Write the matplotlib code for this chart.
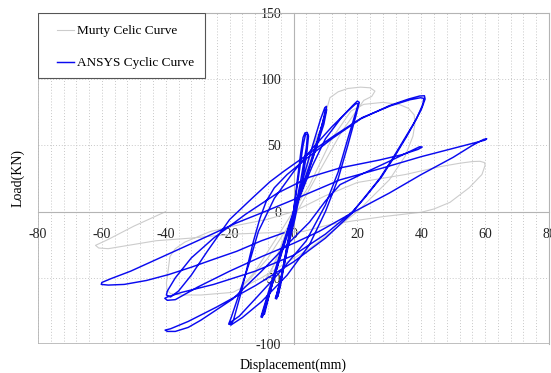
import matplotlib
matplotlib.use('Agg')
import matplotlib.pyplot as plt
from matplotlib.patches import Rectangle
import numpy as np

# ANSYS cyclic curve (displacement mm, load kN)
ansys_disp = [0, 1, 2.3, 3, 3.6, 4.3, 4.7, 4.2, 2.5, 0.5, -2, -4, -5.2, -5.7, -5.3, -4.8, -3.8, -2, 0,
              1.5, 3, 3.8, 4.4, 4, 2, -1, -3.5, -5, -5.4, -4.9, -4, -2, 0.5,
              3, 6, 8.5, 9.8, 10.3, 10.2, 8.5, 5, 0, -4, -7.5, -9.5, -10.2, -9.8, -9.2, -7, -3.5, 0,
              3.5, 7, 9.2, 10, 10.4, 9.5, 6, 1, -3.5, -7, -9.2, -9.8, -9.1, -7.5, -4, -1,
              2, 6, 10, 15, 18.5, 20, 20.6, 19.5, 17, 14, 10, 5, -2, -10, -16, -19.5, -20.3, -19.5, -17, -14, -11,
              -6, 0, 6, 12, 17, 19.5, 20.3, 19.5, 17, 14, 10, 4, -4, -12, -17, -20, -19.6, -18.8, -16.5,
              -14.5, -12.5, -10.5, -8.5, -6, -2, 4, 12, 21, 30, 36, 39.5, 41, 41.2, 40, 37.5, 35, 31, 27, 22,
              18, 10, 0, -12, -24, -33, -38.5, -40.2, -39.5, -37, -33, -29, -24, -19, -10, -2, 5, 10, 14.6,
              22, 30, 36, 39.5, 40.3, 39, 34, 27, 14.6, 5, -5, -15, -25, -32, -37, -39.5, -39.8, -38.5,
              -36, -32, -27, -20, -13, -7.4, -3, 4.3, 12.5, 21.5, 30.5, 36.5, 39.8, 40.8, 40.5, 38.5, 35.5,
              31.5, 27.5, 22.5, 18.5, 10, 0, -12, -25, -35, -39.5, -40.3, -39.5, -37, -30, -20, -10, 0, 8,
              19.2, 30, 40, 50, 56, 59.5, 60.5, 60, 56, 48, 40, 28, 14.6, 0, -10, -17.8, -30, -42.8, -51,
              -57, -60, -60.2, -58, -53, -46, -39, -32, -25, -17.8, -10, -3]
ansys_load = [0, 20, 45, 56, 59.5, 59.8, 57, 45, 20, -5, -30, -52, -62, -65.5, -66, -63, -50, -25, 0,
              25, 50, 58.5, 58, 48, 20, -15, -45, -60, -64, -64, -55, -28, 0,
              25, 50, 70, 78.5, 79.5, 76, 62, 35, 0, -30, -58, -74, -79.5, -80, -76, -58, -28, -2,
              22, 48, 68, 77, 77, 66, 40, 5, -30, -57, -73, -78, -77.5, -62, -32, -8,
              12, 35, 55, 71, 80, 83.5, 82.5, 72, 50, 25, 0, -25, -48, -68, -80, -85.5, -85, -80, -62, -40, -15,
              10, 30, 48, 64, 76, 81.5, 81.5, 75, 55, 30, 5, -22, -45, -66, -79, -84, -85.5, -82, -62,
              -42, -22, -5, 8, 18, 28, 40, 55, 70, 80, 85, 87.3, 87.5, 85, 77, 66, 56, 40, 25, 10,
              -2, -20, -38, -56, -72, -83, -88.5, -89.5, -90.5, -90.5, -87.5, -82, -74, -66, -45, -25, -8, 8, 20.4,
              29, 38, 45, 49, 48.8, 47, 43, 39, 33, 26, 14, -2, -20, -35, -50, -60, -63, -64.5,
              -60, -48, -30, -6, 10, 22.5, 30.5, 43, 57, 71, 80, 84.5, 86, 85.5, 81, 70, 57,
              41, 26, 11, 0, -17, -33, -45, -55, -61, -64.5, -65.5, -67, -66.5, -57, -45, -34, -24, -15,
              0.2, 14, 28, 41, 50, 54.5, 55, 54, 51.5, 46.5, 41.5, 33, 24, 9, -1, -8.5, -22, -36, -45,
              -50.5, -53.5, -55, -55.5, -55, -52, -47.5, -42, -36, -30, -22, -16]

# Murty cyclic curve
murty_disp = [0, 3, 6, 8, 6, 2, -3, -7, -9, -6, 0, 5, 9, 11.4, 14, 17, 21, 24, 25.5, 24.5, 22, 15, 8, 0,
              -8, -14, -16, -12, -4, 5, 12, 18, 22, 28, 33, 36, 37.8, 38, 37.4, 35, 30, 20, 5, -10,
              -19, -29, -35, -38.5, -39.6, -39.8, -39.5, -38.7, -37, -34, -30, -26, -19, -8.4, 0, 10, 20, 35,
              46, 52, 56, 58.4, 59.8, 60, 59, 55, 49, 44, 40, 29, 18.7, 11.4, 3, -8, -19, -32, -43, -53,
              -58, -61, -62, -58, -50, -40]
murty_load = [0, 25, 50, 60, 48, 15, -20, -45, -52, -40, -5, 30, 65, 86, 90.5, 93, 94, 93.5, 91, 87, 84, 60, 30, -5,
              -35, -52, -56, -45, -15, 20, 55, 76, 81, 82.5, 81, 78, 73, 66, 57, 42, 24, 0, -28, -50,
              -61, -63, -63, -62, -59, -54, -49, -34, -28, -23, -19, -15, -11, -6, 0, 12, 22, 28,
              34, 36.5, 37.8, 38, 37, 35, 28, 18, 7, 2, -0.5, -3.5, -7, -9.8, -15, -16, -17, -20, -22, -26,
              -28, -27.5, -25.5, -21, -11, 0]

x_ticks = [-80, -60, -40, -20, 0, 20, 40, 60, 80]
y_ticks = [-100, -50, 0, 50, 100, 150]

plt.rcParams['font.family'] = ['Liberation Serif', 'DejaVu Serif']
plt.rcParams['axes.unicode_minus'] = False

fig = plt.figure(figsize=(5.51, 3.73), dpi=100)
ax = fig.add_axes([38/551, 1-344/373, 511/551, 331/373])

# dotted grid
for gx in np.arange(-80, 81, 4):
    ax.axvline(gx, color='#c8c8c8', lw=0.7, ls=(0, (1, 2)), zorder=0)
for gy in [-50, 50, 100]:
    ax.axhline(gy, color='#c8c8c8', lw=0.7, ls=(0, (1, 2)), zorder=0)

ax.plot(murty_disp, murty_load, color='#cccccc', lw=0.8, label='Murty Celic Curve', zorder=2)
ax.plot(ansys_disp, ansys_load, color='#0a0af0', lw=1.05, label='ANSYS Cyclic Curve', zorder=3)

ax.set_xlim(-80, 80)
ax.set_ylim(-100, 150)
ax.set_xticks(x_ticks)
ax.set_yticks(y_ticks)

ax.spines['left'].set_position(('data', 0))
ax.spines['bottom'].set_position(('data', 0))
for s in ax.spines.values():
    s.set_color('#b4b4b4')
    s.set_linewidth(0.8)
ax.axvline(-80, color='#b4b4b4', lw=1.2, zorder=1)
ax.axhline(-100, color='#b4b4b4', lw=1.2, zorder=1)

ax.tick_params(axis='both', length=0, labelsize=10, colors='#222222')
ax.tick_params(axis='x', pad=12)
ax.tick_params(axis='y', pad=9)

ax.set_xlabel('Displacement(mm)', fontsize=10)
ax.set_ylabel('Load(KN)', fontsize=10)
ax.xaxis.set_label_coords(0.5, -0.045)
ax.yaxis.set_label_coords(-0.027, 0.5)

# legend: frame drawn by hand so the inner padding matches
ax.add_patch(Rectangle((0, (344-78)/331), 167/511, 65/331, transform=ax.transAxes,
                       facecolor='white', edgecolor='#555555', lw=0.8, zorder=4))
leg = ax.legend(loc='upper left', bbox_to_anchor=((57-38)/511, (344-25)/331), borderaxespad=0,
                frameon=False, fontsize=9.5, borderpad=0,
                handlelength=1.3, handletextpad=0.2, labelspacing=1.5)
leg.set_zorder(5)

fig.savefig('out.png', dpi=100)
